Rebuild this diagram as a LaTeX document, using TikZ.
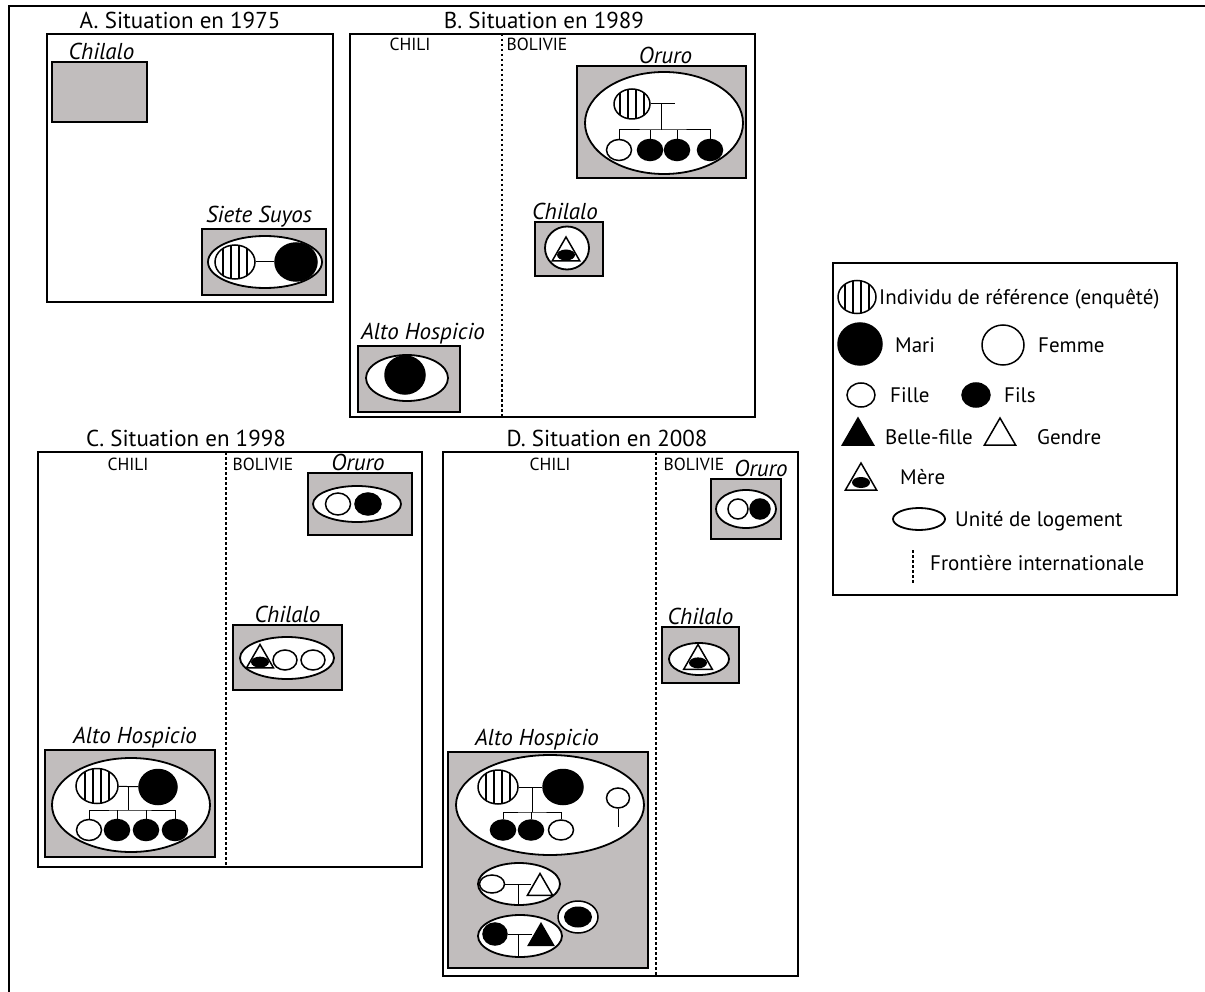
\documentclass[tikz,border=0pt]{standalone}
\usepackage{fontspec}
\setmainfont{PT Sans}
\usetikzlibrary{shapes.geometric,positioning}
\definecolor{lieugris}{RGB}{193,189,189}

\begin{document}
\begin{tikzpicture}[x=1pt,y=-1pt,
  titre/.style={font=\fontsize{23}{26}\selectfont},
  pays/.style={font=\fontsize{17.5}{20}\selectfont},
  nom/.style={font=\fontsize{23}{26}\selectfont\itshape,inner sep=1pt},
  legende/.style={font=\fontsize{21}{24}\selectfont,anchor=west,inner sep=0pt,text height=14.5pt,text depth=0pt},
  cadre/.style={draw,line width=1.5pt,inner sep=0pt},
  lieu/.style={draw,line width=2pt,fill=lieugris,inner sep=0pt},
  logement/.style={ellipse,draw,line width=1.8pt,fill=white,inner sep=0pt},
  pers/.style={ellipse,draw,line width=1.5pt,inner sep=0pt},
  ego/.style={pers,fill=white,path picture={\foreach \k in {-12,-4,4,12}
      \draw[line width=1.3pt] ([xshift=\k pt]path picture bounding box.north) -- ([xshift=\k pt]path picture bounding box.south);}},
  homme/.style={pers,fill=black},
  femme/.style={pers,fill=white},
  tri/.style={regular polygon,regular polygon sides=3,draw,line width=1.5pt,inner sep=0pt},
  mere/.style={tri,fill=white,path picture={\fill[black] ([yshift=-6pt]path picture bounding box.center) ellipse [x radius=9pt,y radius=5.5pt];}},
  bague/.style={pers,fill=white,path picture={\fill[black] (path picture bounding box.center) ellipse [x radius=14pt,y radius=10.5pt];}},
  frontiere/.style={line width=1.8pt,dash pattern=on 2.5pt off 2.5pt},
  lien/.style={line width=1pt}]
\useasboundingbox (0,0) rectangle (1205,992);
\draw[line width=2.5pt] (9,992) -- (9,6) -- (1205,6);

\node[titre] (aTitre) at (180,20) {A. Situation en 1975};
\node[cadre,minimum width=286pt,minimum height=268pt] (aCadre) at (190,168) {};
\node[lieu,minimum width=95pt,minimum height=60pt] (aChil) at (99.5,92) {};
\node[nom,above=0pt of aChil,xshift=2pt] (aChilNom) {Chilalo};
\node[lieu,minimum width=124pt,minimum height=66pt] (aSiete) at (264,262) {};
\node[nom,above=0pt of aSiete,xshift=-5pt] (aSieteNom) {Siete Suyos};
\node[logement,minimum width=114pt,minimum height=52pt] (aLog) at (265,262) {};
\node[ego,minimum width=40pt,minimum height=34pt] (aEgo) at (235,262) {};
\node[homme,minimum width=42pt,minimum height=38pt] (aMari) at (296,262) {};
\draw[lien] (aEgo) -- (aMari);

\node[titre] (bTitre) at (544,20) {B. Situation en 1989};
\node[cadre,minimum width=405pt,minimum height=383pt] (bCadre) at (552.5,225.5) {};
\node[pays] (bChili) at (410,44) {CHILI};
\node[pays] (bBol) at (537,44) {BOLIVIE};
\coordinate (bFn) at (502,34);
\coordinate (bFs) at (502,417);
\draw[frontiere] (bFn) -- (bFs);
\node[lieu,minimum width=169pt,minimum height=112pt] (bOru) at (661.5,122) {};
\node[nom,above=0pt of bOru,xshift=4pt] (bOruNom) {Oruro};
\node[logement,minimum width=158pt,minimum height=102pt] (bLog) at (664,123) {};
\node[ego,minimum width=36pt,minimum height=30pt] (bEgo) at (632,104) {};
\node[femme,minimum width=25pt,minimum height=21pt] (bF1) at (619,150) {};
\node[homme,minimum width=25pt,minimum height=21pt] (bF2) at (650,150) {};
\node[homme,minimum width=25pt,minimum height=21pt] (bF3) at (677,150) {};
\node[homme,minimum width=25pt,minimum height=21pt] (bF4) at (710,150) {};
\coordinate (bBout) at (675,104);
\coordinate (bNoeud) at (661,130);
\draw[lien] (bEgo.east) -- (bBout);
\draw[lien] (bNoeud |- bEgo.east) -- (bNoeud);
\draw[lien] (bF1.north) |- (bNoeud) -| (bF4.north);
\draw[lien] (bF2.north) -- (bF2.north |- bNoeud);
\draw[lien] (bF3.north) -- (bF3.north |- bNoeud);
\node[lieu,minimum width=68pt,minimum height=54pt] (bChil) at (569,249) {};
\node[nom,above=0pt of bChil,xshift=-4pt] (bChilNom) {Chilalo};
\node[logement,minimum width=44pt,minimum height=43pt] (bLog2) at (567,248) {};
\node[mere,minimum size=32pt] (bMere) at (566,253) {};
\node[lieu,minimum width=102pt,minimum height=66pt] (bAlto) at (409,379) {};
\node[nom,above=0pt of bAlto,xshift=14pt] (bAltoNom) {Alto Hospicio};
\node[logement,minimum width=82pt,minimum height=46pt] (bLog3) at (407,378) {};
\node[homme,minimum width=40pt,minimum height=38pt] (bMari) at (405,375) {};

\node[titre] (cTitre) at (186,438) {C. Situation en 1998};
\node[cadre,minimum width=384pt,minimum height=415pt] (cCadre) at (230,659.5) {};
\node[pays] (cChili) at (128,464) {CHILI};
\node[pays] (cBol) at (263,464) {BOLIVIE};
\coordinate (cFn) at (226,452);
\coordinate (cFs) at (226,867);
\draw[frontiere] (cFn) -- (cFs);
\node[lieu,minimum width=104pt,minimum height=62pt] (cOru) at (360,504) {};
\node[nom,above=0pt of cOru,xshift=-2pt] (cOruNom) {Oruro};
\node[logement,minimum width=88pt,minimum height=36pt] (cLog) at (357,504) {};
\node[femme,minimum width=25pt,minimum height=22pt] (cF1) at (338,504) {};
\node[homme,minimum width=26pt,minimum height=22pt] (cF2) at (368,504) {};
\node[lieu,minimum width=109pt,minimum height=65pt] (cChil) at (287.5,657.5) {};
\node[nom,above=0pt of cChil] (cChilNom) {Chilalo};
\node[logement,minimum width=94pt,minimum height=42pt] (cLog2) at (287,658) {};
\node[mere,minimum size=31pt] (cMere) at (260,660) {};
\node[femme,minimum width=24pt,minimum height=20pt] (cF3) at (285,660) {};
\node[femme,minimum width=24pt,minimum height=20pt] (cF4) at (313,660) {};
\node[lieu,minimum width=170pt,minimum height=107pt] (cAlto) at (130,803.5) {};
\node[nom,above=0pt of cAlto,xshift=5pt] (cAltoNom) {Alto Hospicio};
\node[logement,minimum width=158pt,minimum height=94pt] (cLog3) at (131,805) {};
\node[ego,minimum width=42pt,minimum height=35pt] (cEgo) at (97,786) {};
\node[homme,minimum width=38pt,minimum height=35pt] (cMari) at (158,787) {};
\node[femme,minimum width=25pt,minimum height=21pt] (cE1) at (89,830) {};
\node[homme,minimum width=25pt,minimum height=21pt] (cE2) at (117,830) {};
\node[homme,minimum width=25pt,minimum height=21pt] (cE3) at (146,830) {};
\node[homme,minimum width=25pt,minimum height=21pt] (cE4) at (175,830) {};
\coordinate (cNoeud) at (128,810);
\draw[lien] (cEgo) -- (cMari);
\draw[lien] (cNoeud |- cEgo.east) -- (cNoeud);
\draw[lien] (cE1.north) |- (cNoeud) -| (cE4.north);
\draw[lien] (cE2.north) -- (cE2.north |- cNoeud);
\draw[lien] (cE3.north) -- (cE3.north |- cNoeud);

\node[titre] (dTitre) at (607,438) {D. Situation en 2008};
\node[cadre,minimum width=355pt,minimum height=524pt] (dCadre) at (620.5,714) {};
\node[pays] (dChili) at (550,464) {CHILI};
\node[pays] (dBol) at (694,464) {BOLIVIE};
\coordinate (dFn) at (656,452);
\coordinate (dFs) at (656,976);
\draw[frontiere] (dFn) -- (dFs);
\node[lieu,minimum width=70pt,minimum height=60pt] (dOru) at (746,509) {};
\node[nom,above=0pt of dOru,xshift=15pt] (dOruNom) {Oruro};
\node[logement,minimum width=60pt,minimum height=38pt] (dLog) at (746,509) {};
\node[femme,minimum width=20pt,minimum height=20pt] (dF1) at (738,509) {};
\node[homme,minimum width=20pt,minimum height=20pt] (dF2) at (760,509) {};
\node[lieu,minimum width=77pt,minimum height=56pt] (dChil) at (700.5,655) {};
\node[nom,above=0pt of dChil] (dChilNom) {Chilalo};
\node[logement,minimum width=60pt,minimum height=32pt] (dLog2) at (699,659) {};
\node[mere,minimum size=33pt] (dMere) at (698,661) {};
\node[lieu,minimum width=200pt,minimum height=216pt] (dAlto) at (548,860) {};
\node[nom,above=0pt of dAlto,xshift=-11pt] (dAltoNom) {Alto Hospicio};
\node[logement,minimum width=188pt,minimum height=100pt] (dLog3) at (550,805) {};
\node[ego,minimum width=40pt,minimum height=34pt] (dEgo) at (498,787) {};
\node[homme,minimum width=40pt,minimum height=35pt] (dMari) at (563,787) {};
\node[homme,minimum width=25pt,minimum height=20pt] (dE1) at (503,830) {};
\node[homme,minimum width=25pt,minimum height=20pt] (dE2) at (531,830) {};
\node[femme,minimum width=25pt,minimum height=20pt] (dE3) at (561,830) {};
\node[femme,minimum width=23pt,minimum height=20pt] (dAutre) at (618,798) {};
\coordinate (dNoeud) at (532,812);
\coordinate (dAutreBas) at (618,827);
\draw[lien] (dEgo) -- (dMari);
\draw[lien] (dNoeud |- dEgo.east) -- (dNoeud);
\draw[lien] (dE1.north) |- (dNoeud) -| (dE3.north);
\draw[lien] (dE2.north) -- (dE2.north |- dNoeud);
\draw[lien] (dAutre.south) -- (dAutreBas);
\node[logement,minimum width=82pt,minimum height=42pt] (dLog4) at (519,884) {};
\node[femme,minimum width=25pt,minimum height=18pt] (dFille) at (492,884) {};
\node[tri,fill=white,minimum size=29pt] (dGendre) at (540,888) {};
\coordinate (dNoeud2) at (518,884);
\draw[lien] (dFille.east) -- (dGendre.west |- dFille.east);
\draw[lien] (dNoeud2) -- (dNoeud2 |- dLog4.south);
\node[bague,minimum width=40pt,minimum height=32pt] (dBague) at (578,917) {};
\node[logement,minimum width=84pt,minimum height=42pt] (dLog5) at (520,936) {};
\node[homme,minimum width=24pt,minimum height=22pt] (dFils) at (495,934) {};
\node[tri,fill=black,minimum size=29pt] (dBelle) at (541,938) {};
\coordinate (dNoeud3) at (518,934);
\draw[lien] (dFils.east) -- (dBelle.west |- dFils.east);
\draw[lien] (dNoeud3) -- (dNoeud3 |- dLog5.south);

\node[cadre,minimum width=344pt,minimum height=332pt] (leg) at (1005,429) {};
\node[ego,minimum width=38pt,minimum height=33pt] (lEgo) at (857,297) {};
\node[legende] (lEgoT) at (879,297) {Individu de référence (enquêté)};
\node[homme,minimum width=44pt,minimum height=42pt] (lMari) at (860,344) {};
\node[legende] (lMariT) at (895,345) {Mari};
\node[femme,minimum width=42pt,minimum height=40pt] (lFemme) at (1003,345) {};
\node[legende] (lFemmeT) at (1038,345) {Femme};
\node[femme,minimum width=28pt,minimum height=24pt] (lFille) at (861,395) {};
\node[legende] (lFilleT) at (890,395) {Fille};
\node[homme,minimum width=28pt,minimum height=24pt] (lFils) at (976,395) {};
\node[legende] (lFilsT) at (1004,395) {Fils};
\node[tri,fill=black,minimum size=36pt] (lBelle) at (858,436) {};
\node[legende] (lBelleT) at (885,437) {Belle-fille};
\node[tri,fill=white,minimum size=36pt] (lGendre) at (1000,436) {};
\node[legende] (lGendreT) at (1037,437) {Gendre};
\node[mere,minimum size=36pt] (lMere) at (861,481) {};
\node[legende] (lMereT) at (900,477) {Mère};
\node[logement,minimum width=52pt,minimum height=22pt] (lLog) at (919,519) {};
\node[legende] (lLogT) at (955,519) {Unité de logement};
\coordinate (lFn) at (913,550);
\coordinate (lFs) at (913,583);
\draw[frontiere] (lFn) -- (lFs);
\node[legende] (lFrT) at (930,563) {Frontière internationale};
\end{tikzpicture}
\end{document}
